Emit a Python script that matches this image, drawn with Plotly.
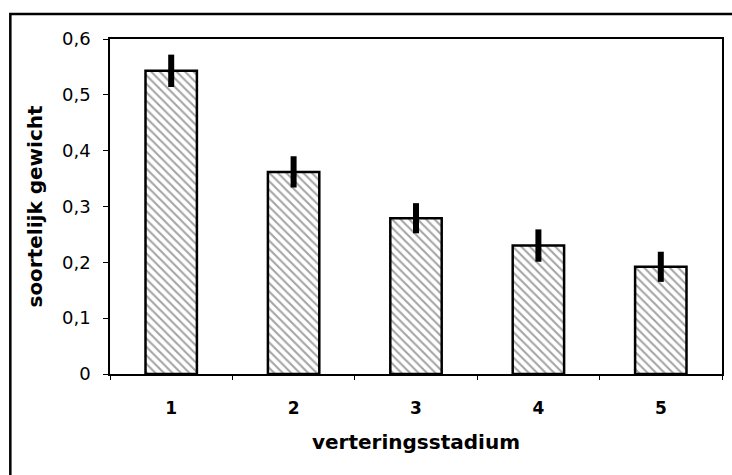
import plotly.graph_objects as go

categories = ["1", "2", "3", "4", "5"]
values = [0.543, 0.362, 0.279, 0.230, 0.192]
errors = [0.029, 0.028, 0.027, 0.029, 0.027]
y_tickvals = [0, 0.1, 0.2, 0.3, 0.4, 0.5, 0.6]
y_ticktext = ["0", "0,1", "0,2", "0,3", "0,4", "0,5", "0,6"]

W, H = 732, 475
L, R, T, B = 110, 8, 39, 101
pw, ph = W - L - R, H - T - B

fig = go.Figure()
fig.add_trace(go.Bar(
    x=categories, y=values, width=0.42,
    marker=dict(
        color="white",
        line=dict(color="black", width=2.5),
        pattern=dict(shape="\\", fgcolor="#4a4a4a", bgcolor="white", size=6, solidity=0.35),
    ),
    error_y=dict(type="data", array=errors, visible=True, thickness=6, width=0, color="black"),
))

font_fam = "DejaVu Sans, Arial, sans-serif"
fig.update_layout(
    width=W, height=H,
    margin=dict(l=L, r=R, t=T, b=B),
    paper_bgcolor="white", plot_bgcolor="white",
    showlegend=False,
    font=dict(family=font_fam, color="black", size=16),
    xaxis=dict(
        type="category", tickson="boundaries", ticks="outside", ticklen=4, tickcolor="black",
        showline=True, linecolor="black", linewidth=1.5, mirror=True, showgrid=False,
        tickfont=dict(size=17, weight="bold"), ticklabelstandoff=18,
        title=dict(text="<b>verteringsstadium</b>", font=dict(size=20), standoff=18),
    ),
    yaxis=dict(
        range=[0, 0.6], tickvals=y_tickvals, ticktext=y_ticktext,
        ticks="outside", ticklen=5, tickcolor="black",
        showline=True, linecolor="black", linewidth=1.5, mirror=True, showgrid=False,
        zeroline=False, tickfont=dict(size=18), ticklabelstandoff=9,
        title=dict(text="<b>soortelijk gewicht</b>", font=dict(size=20), standoff=14),
    ),
)

# outer frame (only top and left edges visible in the reference)
fig.add_shape(type="rect", xref="paper", yref="paper",
              x0=(10 - L) / pw, x1=(W + 20 - L) / pw,
              y0=(H - B - (H + 20)) / ph, y1=(H - B - 14) / ph,
              line=dict(color="black", width=2.5), fillcolor="rgba(0,0,0,0)", layer="below")

fig.write_html("out.html", config={"displayModeBar": False},
               post_script="document.body.style.margin='0';document.body.style.overflow='hidden';")
